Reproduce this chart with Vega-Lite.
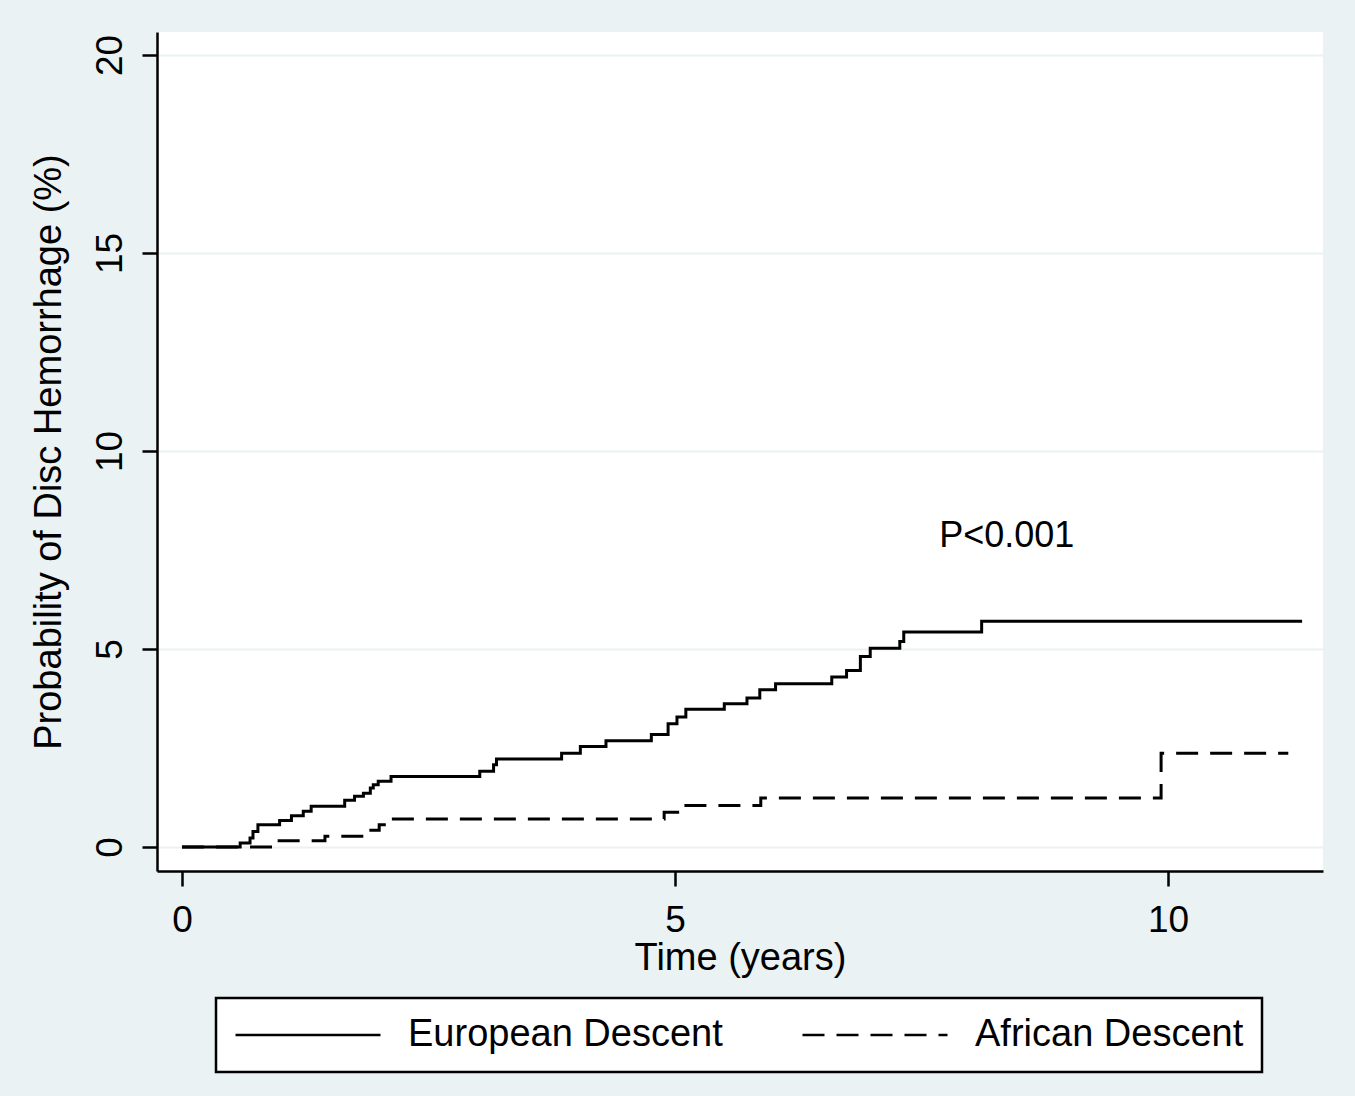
{
  "$schema": "https://vega.github.io/schema/vega-lite/v6.json",
  "width": 1166,
  "height": 839,
  "autosize": {"type": "none"},
  "padding": {"left": 157, "top": 32, "right": 32, "bottom": 225},
  "background": "#eaf2f3",
  "config": {
    "view": {"fill": "white", "stroke": null},
    "font": "Liberation Sans",
    "axis": {
      "domainColor": "black",
      "domainWidth": 2.5,
      "tickColor": "black",
      "tickWidth": 2.5,
      "tickSize": 15,
      "labelFont": "Liberation Sans",
      "labelFontSize": 37,
      "labelColor": "black",
      "titleFont": "Liberation Sans",
      "titleFontSize": 38,
      "titleFontWeight": "normal",
      "titleColor": "black",
      "gridColor": "#eaf2f3",
      "gridWidth": 2,
      "gridOpacity": 1
    },
    "legend": {
      "orient": "none",
      "legendX": 59,
      "legendY": 966,
      "direction": "horizontal",
      "strokeColor": "black",
      "strokeWidth": 2.5,
      "fillColor": "white",
      "padding": 18,
      "symbolType": "stroke",
      "symbolSize": 21025,
      "symbolStrokeWidth": 2.5,
      "symbolStrokeColor": "black",
      "symbolFillColor": "transparent",
      "clipHeight": 38,
      "labelFont": "Liberation Sans",
      "labelFontSize": 38,
      "labelColor": "black",
      "labelOffset": 26,
      "labelLimit": 0,
      "columnPadding": 78,
      "title": null
    }
  },
  "datasets": {
    "km": [
      {"group": "European Descent", "t": 0, "p": 0},
      {"group": "European Descent", "t": 0.59, "p": 0.10},
      {"group": "European Descent", "t": 0.69, "p": 0.23},
      {"group": "European Descent", "t": 0.72, "p": 0.39},
      {"group": "European Descent", "t": 0.77, "p": 0.56},
      {"group": "European Descent", "t": 0.99, "p": 0.67},
      {"group": "European Descent", "t": 1.11, "p": 0.79},
      {"group": "European Descent", "t": 1.23, "p": 0.90},
      {"group": "European Descent", "t": 1.31, "p": 1.03},
      {"group": "European Descent", "t": 1.65, "p": 1.18},
      {"group": "European Descent", "t": 1.75, "p": 1.28},
      {"group": "European Descent", "t": 1.84, "p": 1.36},
      {"group": "European Descent", "t": 1.91, "p": 1.49},
      {"group": "European Descent", "t": 1.94, "p": 1.57},
      {"group": "European Descent", "t": 1.99, "p": 1.66},
      {"group": "European Descent", "t": 2.12, "p": 1.78},
      {"group": "European Descent", "t": 3.02, "p": 1.91},
      {"group": "European Descent", "t": 3.16, "p": 2.08},
      {"group": "European Descent", "t": 3.19, "p": 2.22},
      {"group": "European Descent", "t": 3.85, "p": 2.37},
      {"group": "European Descent", "t": 4.04, "p": 2.54},
      {"group": "European Descent", "t": 4.30, "p": 2.68},
      {"group": "European Descent", "t": 4.76, "p": 2.84},
      {"group": "European Descent", "t": 4.93, "p": 3.11},
      {"group": "European Descent", "t": 5.02, "p": 3.28},
      {"group": "European Descent", "t": 5.11, "p": 3.48},
      {"group": "European Descent", "t": 5.50, "p": 3.62},
      {"group": "European Descent", "t": 5.73, "p": 3.76},
      {"group": "European Descent", "t": 5.86, "p": 3.97},
      {"group": "European Descent", "t": 6.02, "p": 4.12},
      {"group": "European Descent", "t": 6.59, "p": 4.29},
      {"group": "European Descent", "t": 6.74, "p": 4.46},
      {"group": "European Descent", "t": 6.88, "p": 4.81},
      {"group": "European Descent", "t": 6.98, "p": 5.02},
      {"group": "European Descent", "t": 7.28, "p": 5.19},
      {"group": "European Descent", "t": 7.32, "p": 5.43},
      {"group": "European Descent", "t": 8.11, "p": 5.70},
      {"group": "European Descent", "t": 11.36, "p": 5.70},
      {"group": "African Descent", "t": 0, "p": 0},
      {"group": "African Descent", "t": 0.94, "p": 0.16},
      {"group": "African Descent", "t": 1.45, "p": 0.27},
      {"group": "African Descent", "t": 1.87, "p": 0.42},
      {"group": "African Descent", "t": 2.00, "p": 0.56},
      {"group": "African Descent", "t": 2.08, "p": 0.71},
      {"group": "African Descent", "t": 4.89, "p": 0.88},
      {"group": "African Descent", "t": 5.07, "p": 1.05},
      {"group": "African Descent", "t": 5.87, "p": 1.24},
      {"group": "African Descent", "t": 9.93, "p": 2.37},
      {"group": "African Descent", "t": 11.22, "p": 2.37}
    ],
    "note": [
      {"t": 7.68, "p": 7.58, "label": "P<0.001"}
    ]
  },
  "layer": [
    {
      "data": {"name": "km"},
      "mark": {"type": "line", "interpolate": "step-after", "color": "black", "strokeWidth": 3},
      "encoding": {
        "x": {
          "field": "t", "type": "quantitative",
          "scale": {"domain": [-0.2535, 11.572], "nice": false, "zero": false},
          "axis": {"values": [0, 5, 10], "format": "d", "grid": false, "title": "Time (years)", "labelPadding": 16, "titlePadding": 1, "labelFlush": false}
        },
        "y": {
          "field": "p", "type": "quantitative",
          "scale": {"domain": [-0.606, 20.58], "nice": false, "zero": false},
          "axis": {"values": [0, 5, 10, 15, 20], "format": "d", "grid": true, "title": "Probability of Disc Hemorrhage (%)", "labelAngle": -90, "labelPadding": 13, "titlePadding": 23, "labelFlush": false}
        },
        "strokeDash": {
          "field": "group", "type": "nominal",
          "scale": {"domain": ["European Descent", "African Descent"], "range": [[1, 0], [22, 12]]}
        }
      }
    },
    {
      "data": {"name": "note"},
      "mark": {"type": "text", "align": "left", "baseline": "alphabetic", "fontSize": 36, "font": "Liberation Sans", "color": "black"},
      "encoding": {
        "x": {"field": "t", "type": "quantitative"},
        "y": {"field": "p", "type": "quantitative"},
        "text": {"field": "label"}
      }
    }
  ]
}
